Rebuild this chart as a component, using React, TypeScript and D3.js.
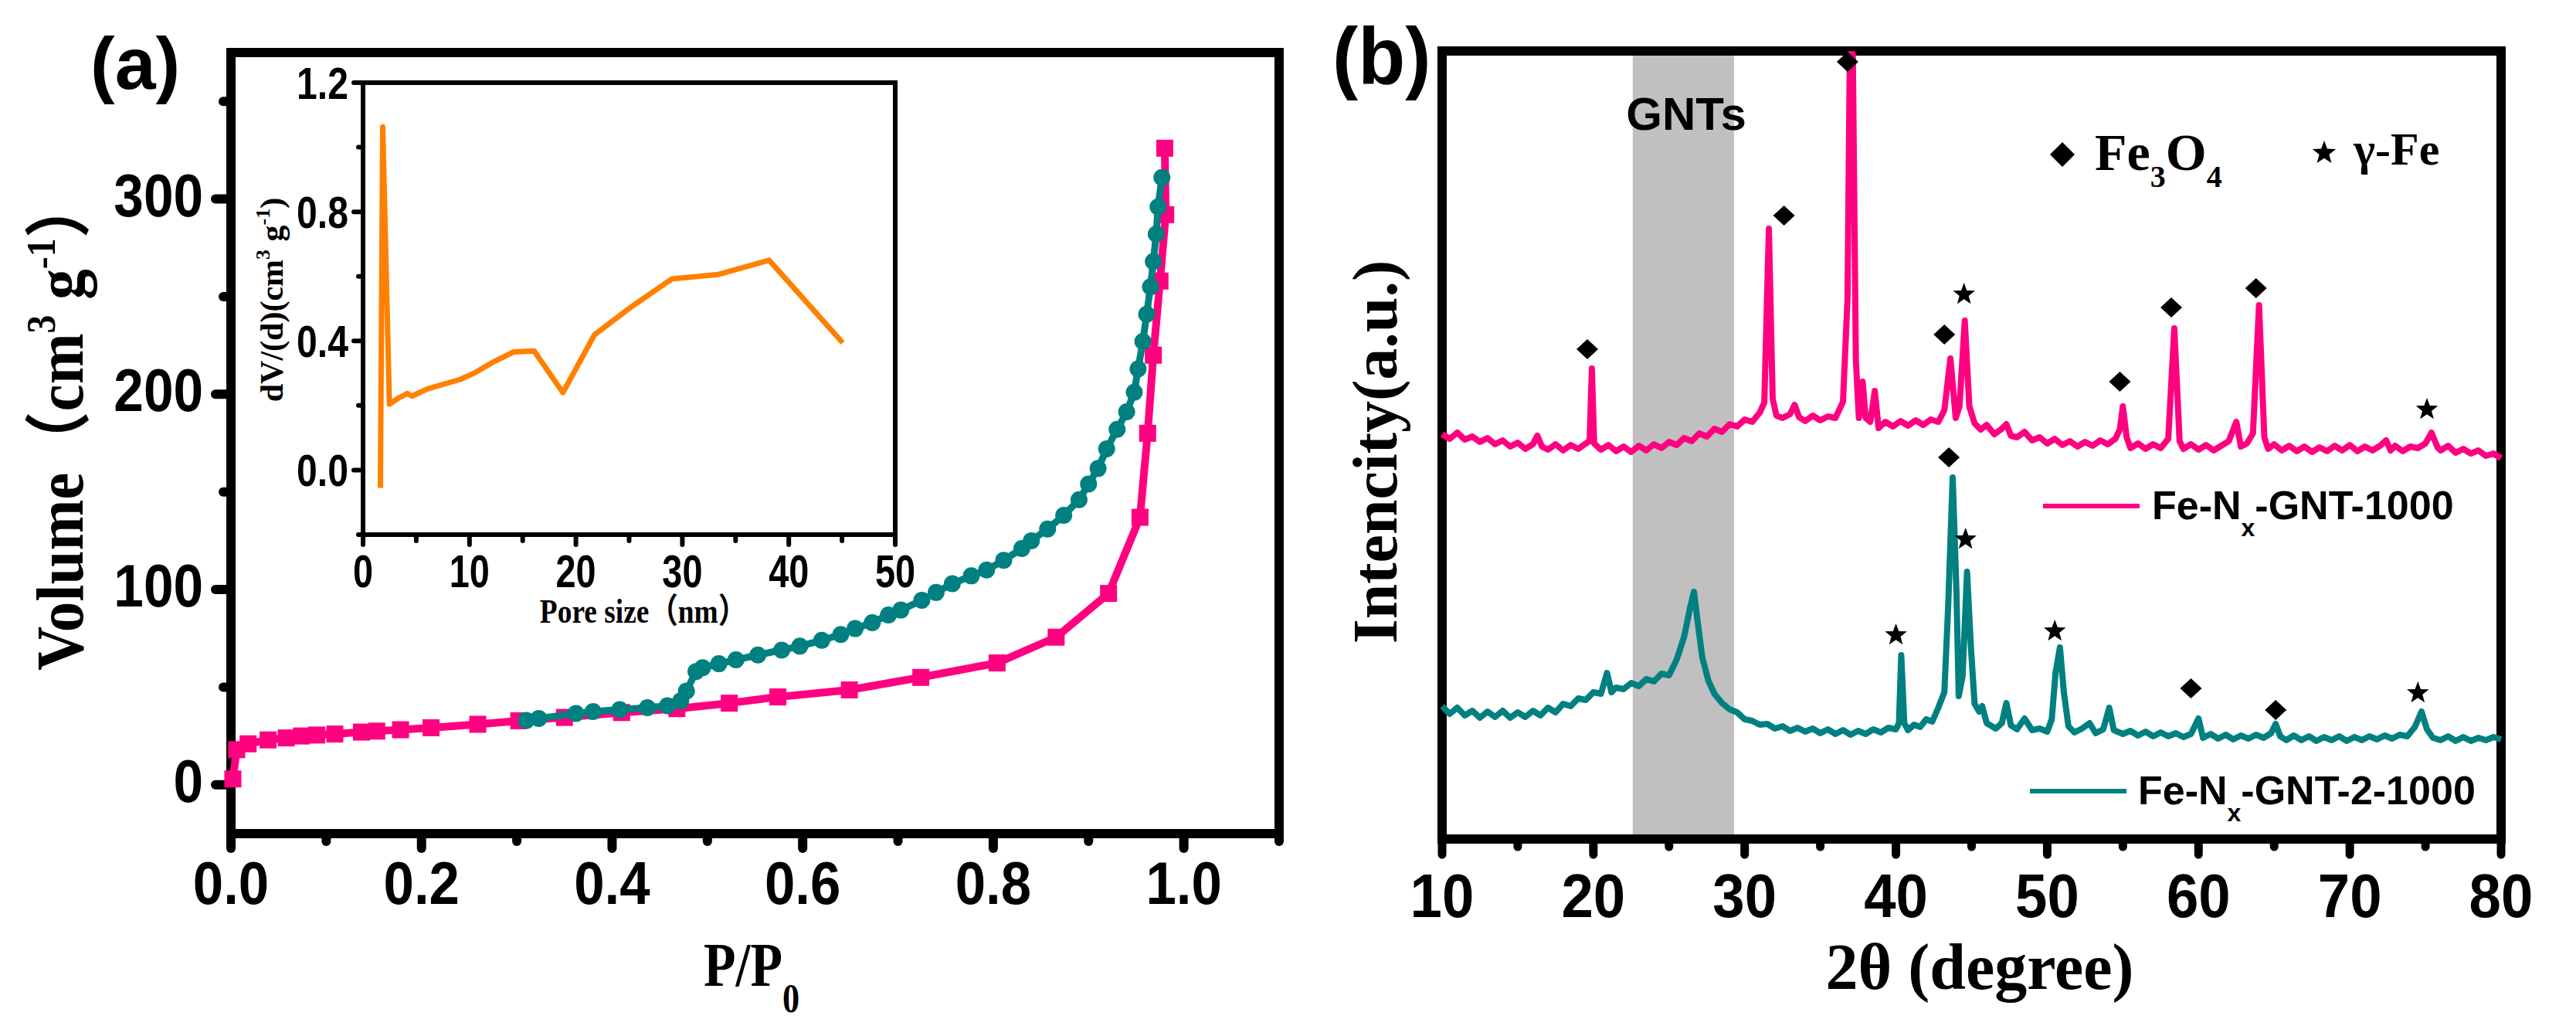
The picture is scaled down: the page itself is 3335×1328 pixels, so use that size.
import { useEffect, useRef } from 'react';
import * as d3 from 'd3';

const SERIF = "'Liberation Serif', 'Times New Roman', 'Noto Sans CJK SC', serif";
const SANS = "'Liberation Sans', Arial, sans-serif";

// ---- (a) N2 isotherm: adsorption (pink squares) / desorption (teal circles)
const adsP = [0.002, 0.006, 0.018, 0.039, 0.058, 0.074, 0.090, 0.109, 0.137, 0.153, 0.178, 0.210, 0.259, 0.302, 0.350, 0.410, 0.468, 0.523, 0.574, 0.649, 0.724, 0.804, 0.866, 0.921, 0.954, 0.962, 0.968, 0.975, 0.981, 0.980];
const adsV = [3, 18, 21, 23, 24, 25, 25.5, 26, 27, 27.5, 28.2, 29.2, 31, 32.8, 34.5, 37, 39, 41.8, 45, 48.6, 55, 62.4, 75.6, 98, 137, 180, 220, 258, 292, 326];

const desP = [0.310, 0.323, 0.362, 0.380, 0.408, 0.437, 0.458, 0.472, 0.478, 0.488, 0.495, 0.512, 0.530, 0.553, 0.578, 0.597, 0.620, 0.640, 0.655, 0.673, 0.690, 0.703, 0.725, 0.740, 0.757, 0.777, 0.793, 0.811, 0.830, 0.840, 0.857, 0.874, 0.890, 0.900, 0.910, 0.919, 0.930, 0.940, 0.948, 0.952, 0.957, 0.961, 0.965, 0.968, 0.971, 0.973, 0.977];
const desV = [33, 34, 36.5, 37.5, 38.5, 39.5, 40.5, 43, 48, 58, 60, 62, 64, 66.5, 69, 71, 74, 77, 80, 83, 87, 89.5, 94.5, 98.5, 103, 107, 110, 115, 121, 125, 131, 138, 146, 154, 162, 172, 182, 191, 201, 213, 227, 241, 255, 268, 282, 296, 311];

const volTicks = [0, 100, 200, 300];
const volMinor = [50, 150, 250, 350];
const pTicks = [0, 0.2, 0.4, 0.6, 0.8, 1.0];
const pMinor = [0.1, 0.3, 0.5, 0.7, 0.9, 1.1];

// inset: pore size distribution
const poreSize = [1.63, 1.85, 2.48, 3.33, 4.15, 4.6, 6.0, 9.15, 10.6, 12.3, 14.15, 16.07, 18.78, 21.74, 25.26, 29.0, 33.4, 38.15, 45.07];
const poreDv = [-0.055, 1.063, 0.204, 0.223, 0.237, 0.229, 0.251, 0.281, 0.303, 0.336, 0.366, 0.369, 0.240, 0.419, 0.507, 0.592, 0.606, 0.650, 0.394];
const poreTicks = [0, 10, 20, 30, 40, 50];
const poreMinor = [5, 15, 25, 35, 45];
const dvTicks = [0, 0.4, 0.8, 1.2];
const dvMinor = [-0.2, 0.2, 0.6, 1.0];

// ---- (b) XRD patterns [2theta, intensity a.u.]
const xrd1000: [number, number][] = [
  [10, 524], [10.5, 518], [11, 526], [11.5, 517], [12, 521], [12.5, 514], [13, 519], [13.5, 511], [14, 516], [14.5, 508],
  [15, 513], [15.5, 505], [16, 511], [16.3, 522], [16.6, 508], [17, 504], [17.5, 511], [18, 503], [18.5, 510], [19, 505],
  [19.5, 512], [19.75, 515], [19.9, 609], [20.05, 512], [20.5, 504], [21, 510], [21.5, 502], [22, 508], [22.5, 501], [23, 509],
  [23.5, 503], [24, 511], [24.5, 506], [25, 514], [25.5, 510], [26, 519], [26.5, 515], [27, 525], [27.5, 521], [28, 531],
  [28.5, 527], [29, 537], [29.5, 534], [30, 543], [30.5, 540], [31, 552], [31.3, 565], [31.6, 790], [31.85, 570], [32.1, 548],
  [32.5, 545], [33, 550], [33.3, 562], [33.6, 546], [34, 541], [34.5, 548], [35, 542], [35.5, 547], [36, 545], [36.5, 566],
  [36.8, 700], [36.95, 1016], [37.15, 1016], [37.35, 620], [37.55, 545], [37.8, 592], [38.0, 545], [38.3, 540], [38.6, 580], [38.85, 532],
  [39.3, 540], [39.8, 534], [40.3, 541], [40.8, 535], [41.3, 542], [41.8, 536], [42.3, 543], [42.8, 540], [43.2, 555], [43.6, 622],
  [43.95, 545], [44.2, 560], [44.55, 671], [44.85, 560], [45.2, 538], [45.6, 530], [46, 536], [46.5, 524], [47, 531], [47.3, 537],
  [47.6, 522], [48, 520], [48.5, 527], [49, 516], [49.5, 520], [50, 512], [50.5, 518], [51, 510], [51.5, 515], [52, 508],
  [52.5, 514], [53, 509], [53.5, 516], [54, 511], [54.5, 518], [54.8, 530], [55.0, 560], [55.25, 520], [55.5, 506], [56, 512],
  [56.5, 505], [57, 511], [57.5, 506], [58, 518], [58.4, 661], [58.75, 515], [59, 505], [59.5, 511], [60, 504], [60.5, 510],
  [61, 503], [61.5, 509], [62, 515], [62.5, 540], [62.8, 508], [63.2, 512], [63.6, 525], [64.0, 691], [64.35, 520], [64.6, 505],
  [65, 511], [65.5, 503], [66, 509], [66.5, 502], [67, 508], [67.5, 501], [68, 507], [68.5, 502], [69, 509], [69.5, 503],
  [70, 510], [70.5, 502], [71, 508], [71.5, 503], [72, 509], [72.4, 516], [72.7, 503], [73, 509], [73.5, 502], [74, 508],
  [74.5, 506], [75, 512], [75.4, 526], [75.8, 507], [76, 503], [76.5, 509], [77, 500], [77.5, 505], [78, 499], [78.5, 503],
  [79, 496], [79.5, 499], [80, 493],
];

const xrd2_1000: [number, number][] = [
  [10, 172], [10.5, 162], [11, 170], [11.5, 160], [12, 166], [12.5, 157], [13, 165], [13.5, 158], [14, 166], [14.5, 157],
  [15, 164], [15.5, 158], [16, 166], [16.5, 160], [17, 170], [17.5, 164], [18, 175], [18.5, 172], [19, 182], [19.5, 180],
  [20, 190], [20.5, 188], [20.9, 215], [21.2, 190], [21.5, 196], [22, 194], [22.5, 202], [23, 198], [23.5, 207], [24, 204],
  [24.5, 214], [25, 212], [25.5, 232], [26, 262], [26.4, 300], [26.65, 320], [26.9, 280], [27.2, 235], [27.6, 205], [28, 188],
  [28.5, 176], [29, 168], [29.5, 164], [30, 155], [30.5, 153], [31, 148], [31.5, 149], [32, 143], [32.5, 146], [33, 140],
  [33.5, 144], [34, 139], [34.5, 143], [35, 137], [35.5, 142], [36, 136], [36.5, 141], [37, 135], [37.5, 140], [38, 136],
  [38.5, 142], [39, 138], [39.5, 144], [40.0, 142], [40.2, 150], [40.35, 238], [40.55, 150], [40.8, 141], [41.2, 148], [41.6, 145],
  [42, 155], [42.4, 152], [42.8, 170], [43.2, 190], [43.45, 300], [43.75, 468], [44.0, 320], [44.15, 185], [44.4, 210], [44.7, 346],
  [44.95, 250], [45.2, 175], [45.5, 165], [45.7, 172], [46, 150], [46.6, 143], [47.0, 150], [47.3, 176], [47.6, 147], [48, 142],
  [48.5, 156], [49, 141], [49.5, 143], [50, 139], [50.3, 155], [50.55, 215], [50.84, 248], [51.1, 190], [51.4, 146], [51.8, 138],
  [52.3, 143], [52.8, 150], [53.2, 137], [53.7, 142], [54.1, 170], [54.4, 141], [55, 136], [55.5, 140], [56, 134], [56.5, 139],
  [57, 133], [57.5, 138], [58, 133], [58.5, 137], [59, 132], [59.5, 136], [60.0, 156], [60.3, 131], [60.8, 136], [61.3, 130],
  [61.8, 135], [62.3, 129], [62.8, 134], [63.3, 130], [63.8, 135], [64.3, 131], [64.8, 137], [65.1, 149], [65.4, 133], [65.8, 128],
  [66.3, 134], [66.8, 128], [67.3, 133], [67.8, 127], [68.3, 132], [68.8, 128], [69.3, 133], [69.8, 127], [70.3, 132], [70.8, 128],
  [71.3, 133], [71.8, 129], [72.3, 134], [72.8, 130], [73.3, 135], [73.8, 133], [74.3, 145], [74.74, 165], [75.1, 142], [75.5, 131],
  [76, 128], [76.5, 133], [77, 127], [77.5, 132], [78, 127], [78.5, 131], [79, 128], [79.5, 132], [80, 129],
];

// phase markers [2theta, height]
const fe3o4Marks: [number, number][] = [[19.6, 634], [32.6, 807], [36.8, 1006], [43.2, 653], [54.8, 592], [58.2, 688], [63.8, 713], [43.5, 494], [59.5, 195], [65.1, 167]];
const gammaFeMarks: [number, number][] = [[44.5, 705], [75.1, 556], [44.6, 388], [40.0, 264], [50.5, 269], [74.5, 189]];
const gntRange = [22.6, 29.3];
const thetaTicks = [10, 20, 30, 40, 50, 60, 70, 80];
const thetaMinor = [15, 25, 35, 45, 55, 65, 75];

const PINK = '#ff0080';
const TEAL = '#008080';
const ORANGE = '#ff8000';

type Sel = d3.Selection<SVGSVGElement, unknown, null, undefined>;

function txt(g: Sel, x: number, y: number, s: string, size: number, o: { family?: string; anchor?: string; sx?: number; rotate?: number } = {}) {
  return g.append('text')
    .attr('transform', `translate(${x},${y})${o.rotate ? ` rotate(${o.rotate})` : ''} scale(${o.sx ?? 1},1)`)
    .attr('font-family', o.family ?? SANS)
    .attr('font-weight', 'bold')
    .attr('font-size', size)
    .attr('text-anchor', o.anchor ?? 'start')
    .attr('fill', '#000')
    .text(s);
}

function starPath(cx: number, cy: number, R: number) {
  const r = R * 0.42;
  const pts = d3.range(10).map(i => {
    const a = -Math.PI / 2 + i * Math.PI / 5;
    const rr = i % 2 ? r : R;
    return `${cx + rr * Math.cos(a)},${cy + rr * Math.sin(a)}`;
  });
  return 'M' + pts.join('L') + 'Z';
}

function diamondPath(cx: number, cy: number, w: number, h: number) {
  return `M${cx},${cy - h}L${cx + w},${cy}L${cx},${cy + h}L${cx - w},${cy}Z`;
}

function tickLines(g: Sel, vals: number[], pos: (v: number) => number, at: number, len: number, width: number, dir: 'left' | 'bottom') {
  vals.forEach(v => {
    const p = pos(v);
    g.append('line')
      .attr('x1', dir === 'left' ? at : p).attr('x2', dir === 'left' ? at - len : p)
      .attr('y1', dir === 'left' ? p : at).attr('y2', dir === 'left' ? p : at + len)
      .attr('stroke', '#000').attr('stroke-width', width).attr('stroke-linecap', 'round');
  });
}

function drawIsotherm(svg: Sel) {
  const x = d3.scaleLinear().domain([0, 1.1]).range([299, 1656]);
  const y = d3.scaleLinear().domain([-25, 375]).range([1079, 68]);

  svg.append('rect').attr('x', 299).attr('y', 68).attr('width', 1656 - 299).attr('height', 1079 - 68)
    .attr('fill', 'none').attr('stroke', '#000').attr('stroke-width', 12);

  tickLines(svg, volTicks, y, 299, 20, 12, 'left');
  tickLines(svg, volMinor, y, 299, 10, 12, 'left');
  tickLines(svg, pTicks, x, 1079, 19, 12, 'bottom');
  tickLines(svg, pMinor, x, 1079, 10, 12, 'bottom');

  volTicks.forEach(v => txt(svg, 263, y(v) + 22, String(v), 77, { anchor: 'end', sx: 0.9 }));
  pTicks.forEach(v => txt(svg, x(v), 1170, v.toFixed(1), 77, { anchor: 'middle', sx: 0.92 }));

  const ads = adsP.map((p, i) => [p, adsV[i]] as [number, number]);
  const des = desP.map((p, i) => [p, desV[i]] as [number, number]);
  const line = d3.line<[number, number]>().x(d => x(d[0])).y(d => y(d[1]));

  svg.append('path').datum(ads).attr('d', line).attr('fill', 'none').attr('stroke', PINK).attr('stroke-width', 10).attr('stroke-linejoin', 'round');
  svg.selectAll('rect.ads').data(ads).enter().append('rect').attr('class', 'ads')
    .attr('x', d => x(d[0]) - 11).attr('y', d => y(d[1]) - 11).attr('width', 22).attr('height', 22).attr('fill', PINK);

  svg.append('path').datum(des).attr('d', line).attr('fill', 'none').attr('stroke', TEAL).attr('stroke-width', 9).attr('stroke-linejoin', 'round');
  svg.selectAll('circle.des').data(des).enter().append('circle').attr('class', 'des')
    .attr('cx', d => x(d[0])).attr('cy', d => y(d[1])).attr('r', 11).attr('fill', TEAL);

  // axis titles
  const xl = txt(svg, 911, 1276, 'P/P', 80, { family: SERIF, sx: 0.85 });
  xl.append('tspan').attr('font-size', 52).attr('dy', 34).text('0');

  const yl = txt(svg, 107, 868, 'Volume（cm', 86, { family: SERIF, rotate: -90, sx: 0.92 });
  yl.append('tspan').attr('font-size', 52).attr('dy', -36).text('3');
  yl.append('tspan').attr('dy', 36).text(' g');
  yl.append('tspan').attr('font-size', 52).attr('dy', -36).text('-1');
  yl.append('tspan').attr('dy', 36).text('）');

  txt(svg, 117, 115, '(a)', 95);
}

function drawInset(svg: Sel) {
  const x = d3.scaleLinear().domain([0, 50]).range([470, 1159]);
  const y = d3.scaleLinear().domain([-0.2, 1.2]).range([692, 107]);

  svg.append('rect').attr('x', 470).attr('y', 107).attr('width', 1159 - 470).attr('height', 692 - 107)
    .attr('fill', 'none').attr('stroke', '#000').attr('stroke-width', 6);

  tickLines(svg, dvTicks, y, 470, 12, 6, 'left');
  tickLines(svg, dvMinor, y, 470, 6, 6, 'left');
  tickLines(svg, poreTicks, x, 692, 13, 6, 'bottom');
  tickLines(svg, poreMinor, x, 692, 8, 6, 'bottom');

  dvTicks.forEach(v => txt(svg, 451, y(v) + 21, v.toFixed(1), 58, { anchor: 'end', sx: 0.83 }));
  poreTicks.forEach(v => txt(svg, x(v), 760, String(v), 60, { anchor: 'middle', sx: 0.78 }));

  const pts = poreSize.map((p, i) => [p, poreDv[i]] as [number, number]);
  svg.append('path').datum(pts)
    .attr('d', d3.line<[number, number]>().x(d => x(d[0])).y(d => y(d[1])))
    .attr('fill', 'none').attr('stroke', ORANGE).attr('stroke-width', 7).attr('stroke-linejoin', 'round');

  txt(svg, 833, 806, 'Pore size（nm）', 44, { family: SERIF, anchor: 'middle', sx: 0.85 });

  const yl = txt(svg, 366, 388, 'dV/(d)(cm', 42, { family: SERIF, anchor: 'middle', rotate: -90 });
  yl.append('tspan').attr('font-size', 26).attr('dy', -17).text('3');
  yl.append('tspan').attr('dy', 17).text(' g');
  yl.append('tspan').attr('font-size', 26).attr('dy', -17).text('-1');
  yl.append('tspan').attr('dy', 17).text(')');
}

function drawXrd(svg: Sel) {
  const x = d3.scaleLinear().domain([10, 80]).range([1867, 3238]);
  const y = d3.scaleLinear().domain([0, 1020]).range([1086, 66]);

  svg.append('rect').attr('x', x(gntRange[0])).attr('y', 66).attr('width', x(gntRange[1]) - x(gntRange[0])).attr('height', 1086 - 66)
    .attr('fill', '#c0c0c0');
  txt(svg, 2183, 168, 'GNTs', 60, { anchor: 'middle' });

  svg.append('rect').attr('x', 1867).attr('y', 66).attr('width', 3238 - 1867).attr('height', 1086 - 66)
    .attr('fill', 'none').attr('stroke', '#000').attr('stroke-width', 12);

  tickLines(svg, thetaTicks, x, 1086, 20, 11, 'bottom');
  tickLines(svg, thetaMinor, x, 1086, 10, 11, 'bottom');
  thetaTicks.forEach(v => txt(svg, x(v), 1187, String(v), 80, { anchor: 'middle', sx: 0.93 }));

  const line = d3.line<[number, number]>().x(d => x(d[0])).y(d => y(d[1]));
  svg.append('path').datum(xrd1000).attr('d', line).attr('fill', 'none').attr('stroke', PINK).attr('stroke-width', 8).attr('stroke-linejoin', 'round');
  svg.append('path').datum(xrd2_1000).attr('d', line).attr('fill', 'none').attr('stroke', TEAL).attr('stroke-width', 8).attr('stroke-linejoin', 'round');

  fe3o4Marks.forEach(d => svg.append('path').attr('d', diamondPath(x(d[0]), y(d[1]), 14, 13)).attr('fill', '#000'));
  gammaFeMarks.forEach(d => svg.append('path').attr('d', starPath(x(d[0]), y(d[1]), 15)).attr('fill', '#000'));

  // phase legend
  svg.append('path').attr('d', diamondPath(2670, 200, 16, 16)).attr('fill', '#000');
  const fe = txt(svg, 2712, 220, 'Fe', 68, { family: SERIF });
  fe.append('tspan').attr('font-size', 40).attr('dy', 22).text('3');
  fe.append('tspan').attr('dy', -22).text('O');
  fe.append('tspan').attr('font-size', 40).attr('dy', 22).text('4');
  svg.append('path').attr('d', starPath(3009, 198, 16)).attr('fill', '#000');
  txt(svg, 3047, 213, 'γ-Fe', 60, { family: SERIF });

  // series legend
  const series: [string, string, number, number, number][] = [
    ['-GNT-1000', PINK, 2645, 2786, 655],
    ['-GNT-2-1000', TEAL, 2628, 2768, 1024],
  ];
  series.forEach(([rest, color, lx, tx, ly]) => {
    svg.append('line').attr('x1', lx).attr('x2', lx + 125).attr('y1', ly).attr('y2', ly).attr('stroke', color).attr('stroke-width', 6);
    const t = txt(svg, tx, ly + 17, 'Fe-N', 52);
    t.append('tspan').attr('font-size', 32).attr('dy', 22).text('x');
    t.append('tspan').attr('dy', -22).text(rest);
  });

  txt(svg, 2563, 1280, '2θ (degree)', 84, { family: SERIF, anchor: 'middle' });
  txt(svg, 1808, 585, 'Intencity(a.u.)', 82, { family: SERIF, anchor: 'middle', rotate: -90 });
  txt(svg, 1725, 108, '(b)', 104, { sx: 0.96 });
}

export default function App() {
  const ref = useRef<SVGSVGElement | null>(null);

  useEffect(() => {
    if (!ref.current) return;
    const svg = d3.select(ref.current);
    svg.selectAll('*').remove();
    drawIsotherm(svg);
    drawInset(svg);
    drawXrd(svg);
  }, []);

  return (
    <svg ref={ref} width={3335} height={1328}
      style={{ position: 'absolute', left: 0, top: 0, background: '#fff', display: 'block' }} />
  );
}
